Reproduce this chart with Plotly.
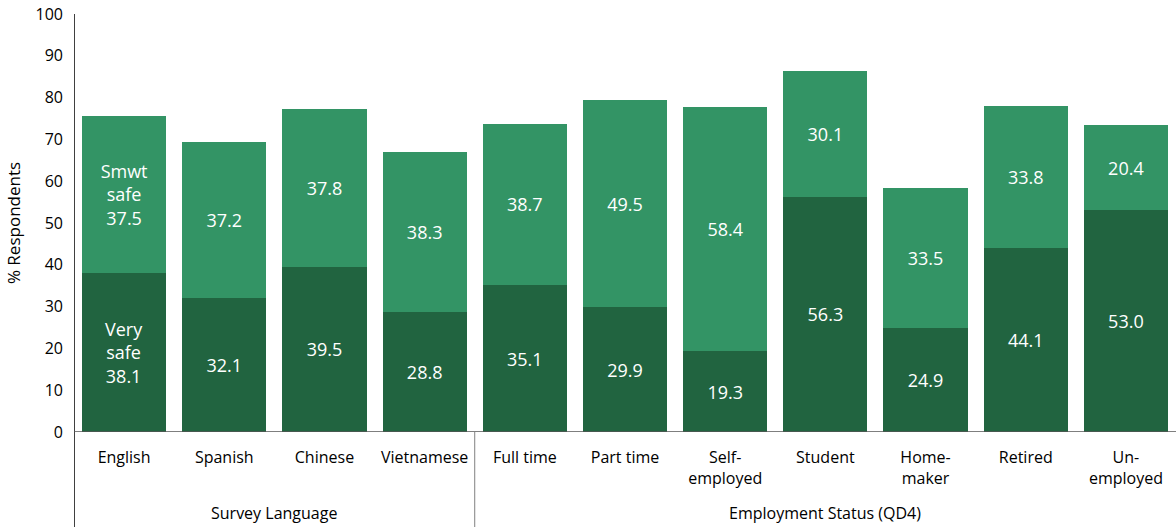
import plotly.graph_objects as go

categories = ["English", "Spanish", "Chinese", "Vietnamese", "Full time", "Part time",
              "Self-<br>employed", "Student", "Home-<br>maker", "Retired", "Un-<br>employed"]
very_safe = [38.1, 32.1, 39.5, 28.8, 35.1, 29.9, 19.3, 56.3, 24.9, 44.1, 53.0]
smwt_safe = [37.5, 37.2, 37.8, 38.3, 38.7, 49.5, 58.4, 30.1, 33.5, 33.8, 20.4]
groups = ["Survey Language", "Employment Status (QD4)"]
group_sizes = [4, 7]
y_ticks = list(range(0, 101, 10))

DARK = "#216440"
LIGHT = "#339465"
FONT = "Open Sans"

x = list(range(len(categories)))

very_text = [f"{v:.1f}" for v in very_safe]
very_text[0] = "Very<br>safe<br>" + very_text[0]
smwt_text = [f"{v:.1f}" for v in smwt_safe]
smwt_text[0] = "Smwt<br>safe<br>" + smwt_text[0]

bar_font = dict(color="white", size=18, family=FONT)
fig = go.Figure()
fig.add_bar(x=x, y=very_safe, name="Very safe", marker=dict(color=DARK, line=dict(width=0)),
            width=0.84, text=very_text, textposition="inside", insidetextanchor="middle",
            textfont=bar_font, textangle=0, cliponaxis=False)
fig.add_bar(x=x, y=smwt_safe, name="Smwt safe", marker=dict(color=LIGHT, line=dict(width=0)),
            width=0.84, text=smwt_text, textposition="inside", insidetextanchor="middle",
            textfont=bar_font, textangle=0, cliponaxis=False)

plot_h = 527 - 14 - 95
below = -95 / plot_h

# Group separators and group titles under the category labels
start = 0
for i, (g, n) in enumerate(zip(groups, group_sizes)):
    center = start + (n - 1) / 2
    fig.add_annotation(x=center, y=below + 14 / plot_h, xref="x", yref="paper",
                       text=g, showarrow=False, yanchor="middle",
                       font=dict(size=16, family=FONT, color="black"))
    if i > 0:
        fig.add_shape(type="line", x0=start - 0.5, x1=start - 0.5, y0=0, y1=below,
                      xref="x", yref="paper", line=dict(color="#808080", width=1))
    start += n
fig.add_shape(type="line", x0=-0.5, x1=-0.5, y0=1, y1=below, xref="x", yref="paper",
              line=dict(color="black", width=1.5))
fig.add_shape(type="line", x0=-0.5, x1=len(categories) - 0.5, y0=0, y1=0,
              xref="x", yref="y", line=dict(color="#555555", width=1.5))

fig.update_layout(
    barmode="stack",
    width=1176, height=527,
    margin=dict(l=74, r=0, t=14, b=95),
    plot_bgcolor="white", paper_bgcolor="white",
    showlegend=False,
    font=dict(family=FONT, size=16, color="black"),
    xaxis=dict(range=[-0.5, len(categories) - 0.5], tickvals=x, ticktext=categories,
               showline=False, ticks="", showgrid=False, zeroline=False,
               tickfont=dict(size=16), ticklabelstandoff=14, tickangle=0),
    yaxis=dict(range=[0, 100], tickvals=y_ticks, showgrid=False, zeroline=False,
               showline=False, ticks="", tickfont=dict(size=16), ticklabelstandoff=10,
               title=dict(text="% Respondents", font=dict(size=17), standoff=10)),
)

fig.write_html("out.html")
